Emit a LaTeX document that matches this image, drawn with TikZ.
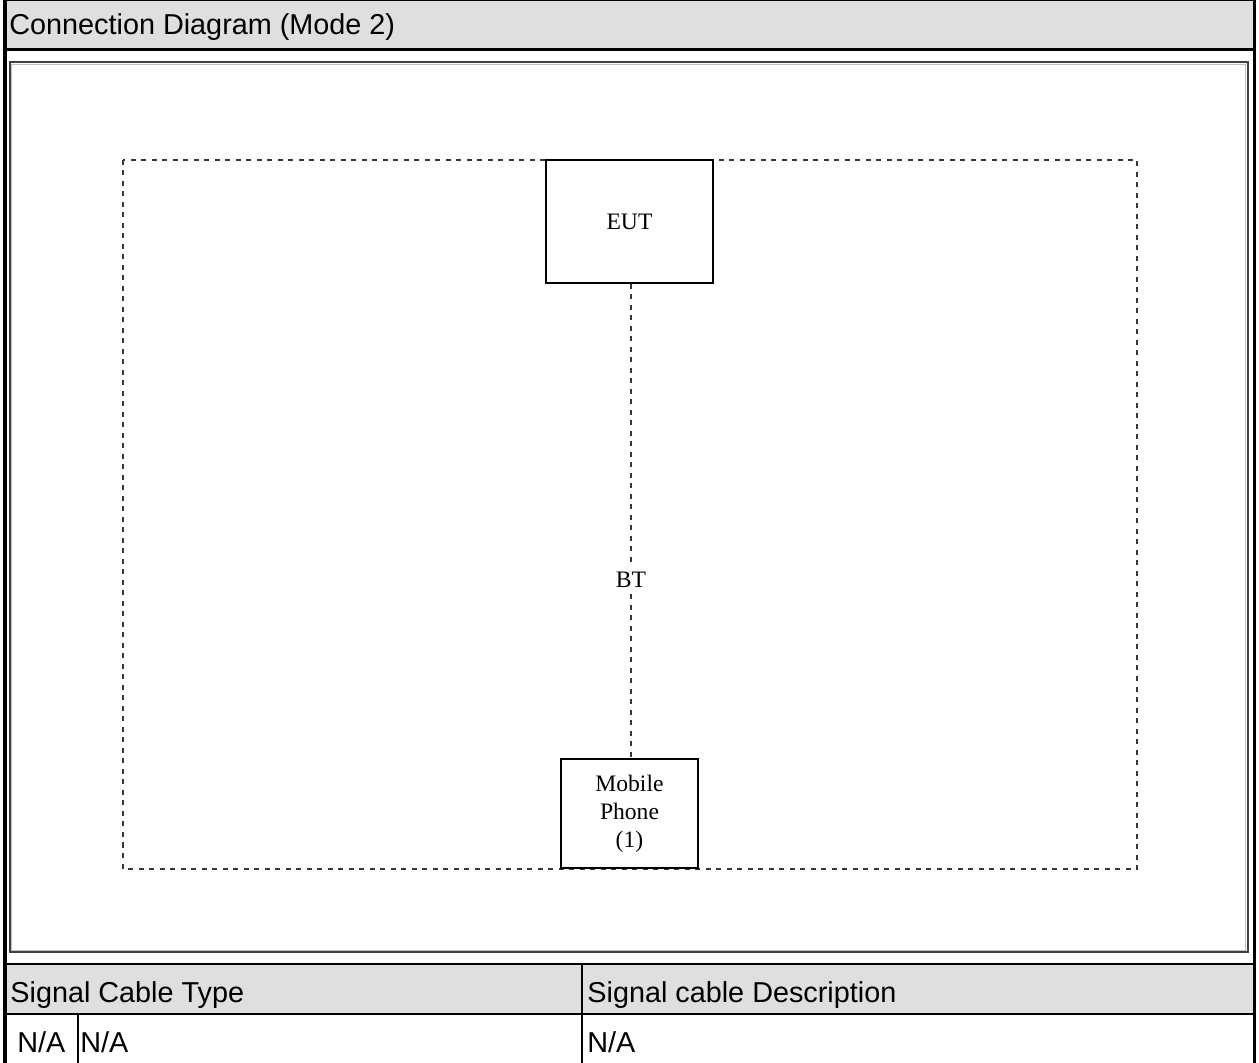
\documentclass[tikz,border=0pt]{standalone}
\usepackage{fontspec}
\setmainfont{Liberation Sans}
\newfontfamily\diagfont{Liberation Serif}
\usepackage{tikz}
\usetikzlibrary{positioning,calc}
\definecolor{cellgray}{RGB}{223,223,223}
\definecolor{dashgray}{RGB}{55,55,55}
\tikzset{
  rule/.style={line width=1pt, draw=black},
  tbltext/.style={font=\fontsize{14.4}{17}\selectfont, inner sep=0pt},
  frame/.style={draw=black!75, line width=1pt},
  box/.style={draw=black, line width=0.75pt, fill=white, align=center, font=\diagfont\fontsize{11.8}{14}\selectfont, inner sep=2pt},
  lbl/.style={fill=white, inner sep=3pt, font=\diagfont\fontsize{11.8}{14}\selectfont},
  link/.style={draw=dashgray, line width=0.75pt, dash pattern=on 2.5pt off 2.75pt},
}

\begin{document}
\begin{tikzpicture}[x=0.5pt,y=-0.5pt]
  \useasboundingbox (0,0) rectangle (1259,1063);
  % header row
  \fill[cellgray] (5,0) rectangle (1254,49);
  \draw[line width=0.5pt] (5,0.5) -- (1254,0.5);
  \draw[line width=1.5pt] (5,49.5) -- (1254,49.5);
  \node[tbltext, anchor=base west] (title) at (9,35) {Connection Diagram (Mode 2)};
  % picture frame
  \draw[frame] (9.5,62.5) rectangle (1247.5,952);
  \draw[black!25, line width=0.5pt] (11.5,64.5) rectangle (1245.5,950);
  % test setup
  \draw[link] (123,160) rectangle (1137,869);
  \node[box, minimum width=83.5pt, minimum height=61.5pt] (eut) at (629.5,221.5) {EUT};
  \node[box, minimum width=68.5pt, minimum height=54.5pt] (phone) at (629.5,813.5) {Mobile\\Phone\\(1)};
  \node[lbl] (bt) at (631,580) {BT};
  \draw[link] (eut.south -| bt) -- (bt) -- (phone.north -| bt);
  % cable table
  \fill[cellgray] (5,964) rectangle (1254,1014);
  \draw[rule] (5,964) -- (1254,964);
  \draw[rule] (5,1014) -- (1254,1014);
  \draw[rule] (582,964) -- (582,1063);
  \draw[line width=0.8pt] (78,1013) -- (78,1063);
  \node[tbltext, anchor=base west] (typehead) at (10,1002) {Signal Cable Type};
  \node[tbltext, anchor=base west] (deschead) at (587,1002) {Signal cable Description};
  \node[tbltext, anchor=base west] (typeno) at (17,1052) {N/A};
  \node[tbltext, anchor=base west] (typename) at (80,1052) {N/A};
  \node[tbltext, anchor=base west] (descval) at (587,1052) {N/A};
  % outer borders
  \draw[line width=1.8pt] (5,0) -- (5,1063);
  \draw[line width=1.8pt] (1254.5,0) -- (1254.5,1063);
\end{tikzpicture}
\end{document}
